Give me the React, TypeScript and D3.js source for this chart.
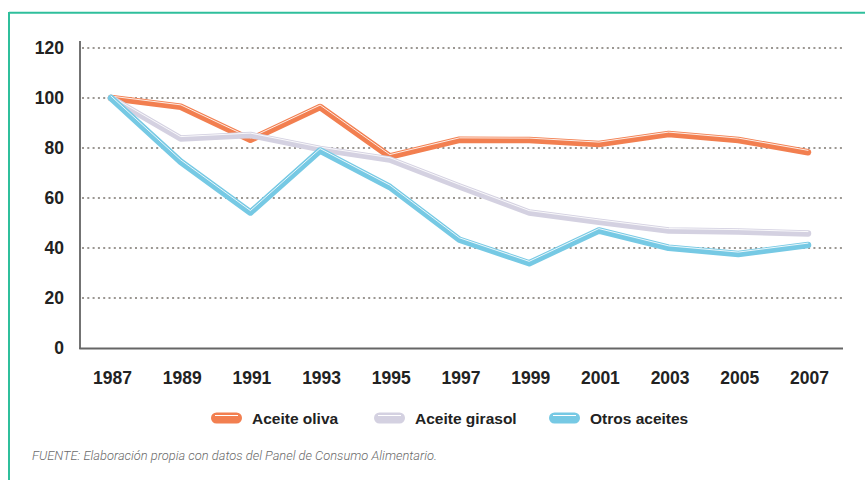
import React from "react";
import * as d3 from "d3";

const years = ["1987","1989","1991","1993","1995","1997","1999","2001","2003","2005","2007"];
const aceiteOliva = [100, 96.5, 83.3, 96.4, 76.6, 83.3, 83.2, 81.6, 85.6, 83.2, 78.3];
const aceiteGirasol = [100, 83.8, 85.2, 79.6, 75.4, 64.6, 54.2, 50.5, 47, 46.6, 45.8];
const otrosAceites = [100, 74.5, 54.2, 79, 64.4, 43.3, 33.9, 47, 40.1, 37.6, 41.2];
const yTicks = [0, 20, 40, 60, 80, 100, 120];
const seriesNames = ["Aceite oliva", "Aceite girasol", "Otros aceites"];
const seriesColors = ["#f27f50", "#d4d1e1", "#76c9e4"];
const source = "FUENTE: Elaboración propia con datos del Panel de Consumo Alimentario.";

export default function App() {
  const W = 865, H = 480;
  const x = d3.scalePoint<string>().domain(years).range([111, 808]);
  const y = d3.scaleLinear().domain([0, 120]).range([348, 48]);
  const line = d3.line<number>().x((_, i) => x(years[i]) as number).y((d) => y(d));
  const allSeries = [aceiteOliva, aceiteGirasol, otrosAceites];
  const legendX = [211, 374, 549];
  const font = "'Liberation Sans', Arial, Helvetica, sans-serif";

  return (
    <svg width={W} height={H} style={{ position: "absolute", left: 0, top: 0, background: "#fff" }}>
      {/* frame */}
      <line x1={9} y1={12.8} x2={W} y2={12.8} stroke="#2fbf9c" strokeWidth={2} />
      <line x1={9} y1={12} x2={9} y2={H} stroke="#2fbf9c" strokeWidth={2} />

      {/* gridlines */}
      {yTicks.filter((t) => t > 0).map((t) => (
        <line key={t} x1={82} x2={843} y1={y(t)} y2={y(t)} stroke="#9b9792" strokeWidth={2} strokeDasharray="2,3.3" />
      ))}
      {/* axes */}
      <line x1={80} x2={80} y1={41} y2={349} stroke="#444" strokeWidth={1.5} />
      <line x1={79.3} x2={843} y1={348.5} y2={348.5} stroke="#666" strokeWidth={2} />

      {/* y labels */}
      {yTicks.map((t) => (
        <text key={t} x={64} y={y(t) + 6} textAnchor="end" fontFamily={font} fontWeight="bold" fontSize={17.5} fill="#222">{t}</text>
      ))}
      {/* x labels */}
      {years.map((yr) => (
        <text key={yr} x={(x(yr) as number) + 1.5} y={384} textAnchor="middle" fontFamily={font} fontWeight="bold" fontSize={17.5} fill="#222">{yr}</text>
      ))}

      {/* lines */}
      {allSeries.map((s, i) => (
        <g key={i}>
          <path d={line(s) || ""} fill="none" stroke={seriesColors[i]} strokeWidth={6.5} strokeLinejoin="round" strokeLinecap="round" />
          <path d={line(s) || ""} fill="none" stroke="#fff" strokeWidth={0.9} strokeLinejoin="round" strokeLinecap="round" transform="translate(0,-1.9)" opacity={0.95} />
        </g>
      ))}

      {/* legend */}
      {seriesNames.map((n, i) => (
        <g key={n}>
          <rect x={legendX[i]} y={412.5} width={31} height={11} rx={5.5} fill={seriesColors[i]} />
          <line x1={legendX[i] + 4} x2={legendX[i] + 27} y1={415.5} y2={415.5} stroke="#fff" strokeWidth={1} />
          <text x={legendX[i] + 41} y={423.5} fontFamily={font} fontWeight="bold" fontSize={15.5} fill="#222">{n}</text>
        </g>
      ))}

      {/* source */}
      <text x={32} y={460} fontFamily="Roboto, 'Open Sans', sans-serif" fontStyle="italic" fontWeight={300} fontSize={13} fill="#6a6a6a" textLength={405} lengthAdjust="spacingAndGlyphs">{source}</text>
    </svg>
  );
}
